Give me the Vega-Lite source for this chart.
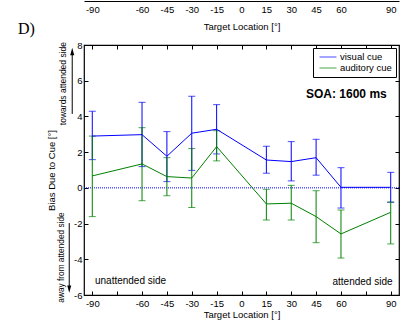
{
  "$schema": "https://vega.github.io/schema/vega-lite/v6.json",
  "width": 315,
  "height": 250,
  "autosize": {"type": "none"},
  "padding": {"left": 84, "top": 45, "right": 13, "bottom": 26},
  "background": "white",
  "config": {
    "font": "Liberation Sans",
    "view": {"stroke": "black", "strokeWidth": 1.2},
    "axis": {
      "domainColor": "black",
      "tickColor": "black",
      "labelColor": "black",
      "titleColor": "black",
      "labelFontSize": 9.5,
      "titleFontSize": 9.5,
      "titleFontWeight": "normal",
      "grid": false,
      "labelFont": "Liberation Sans",
      "titleFont": "Liberation Sans"
    }
  },
  "datasets": {
    "series": [
      {"loc": -90, "cue": "visual cue", "mean": 2.9, "lo": 1.58, "hi": 4.29},
      {"loc": -60, "cue": "visual cue", "mean": 2.98, "lo": 1.19, "hi": 4.79},
      {"loc": -45, "cue": "visual cue", "mean": 1.77, "lo": 0.35, "hi": 3.15},
      {"loc": -30, "cue": "visual cue", "mean": 3.06, "lo": 0.98, "hi": 5.13},
      {"loc": -15, "cue": "visual cue", "mean": 3.28, "lo": 1.9, "hi": 4.66},
      {"loc": 15, "cue": "visual cue", "mean": 1.56, "lo": 0.82, "hi": 2.33},
      {"loc": 30, "cue": "visual cue", "mean": 1.47, "lo": 0.39, "hi": 2.59},
      {"loc": 45, "cue": "visual cue", "mean": 1.69, "lo": 0.71, "hi": 2.72},
      {"loc": 60, "cue": "visual cue", "mean": 0.03, "lo": -1.13, "hi": 1.13},
      {"loc": 90, "cue": "visual cue", "mean": 0.03, "lo": -0.81, "hi": 0.87},
      {"loc": -90, "cue": "auditory cue", "mean": 0.67, "lo": -1.61, "hi": 2.9},
      {"loc": -60, "cue": "auditory cue", "mean": 1.34, "lo": -0.72, "hi": 3.37},
      {"loc": -45, "cue": "auditory cue", "mean": 0.63, "lo": -0.44, "hi": 1.69},
      {"loc": -30, "cue": "auditory cue", "mean": 0.55, "lo": -1.1, "hi": 2.2},
      {"loc": -15, "cue": "auditory cue", "mean": 2.31, "lo": 1.51, "hi": 3.2},
      {"loc": 15, "cue": "auditory cue", "mean": -0.9, "lo": -1.8, "hi": -0.08},
      {"loc": 30, "cue": "auditory cue", "mean": -0.86, "lo": -1.8, "hi": 0.14},
      {"loc": 45, "cue": "auditory cue", "mean": -1.61, "lo": -3.07, "hi": -0.16},
      {"loc": 60, "cue": "auditory cue", "mean": -2.58, "lo": -3.93, "hi": -1.24},
      {"loc": 90, "cue": "auditory cue", "mean": -1.37, "lo": -3.14, "hi": -0.79}
    ]
  },
  "data": {"name": "series"},
  "layer": [
    {
      "data": {"values": [{}]},
      "mark": {"type": "rule", "color": "#0000ff", "strokeWidth": 1, "strokeDash": [1, 1]},
      "encoding": {
        "y": {"datum": 0, "type": "quantitative", "scale": {"domain": [-6, 8], "nice": false}, "axis": null}
      }
    },
    {
      "mark": {"type": "errorbar", "ticks": {"size": 7, "thickness": 1}, "thickness": 1},
      "encoding": {
        "x": {"field": "loc", "type": "quantitative", "scale": {"domain": [-95, 95], "nice": false},
              "axis": {"orient": "top", "values": [-90, -75, -60, -45, -30, -15, 0, 15, 30, 45, 60, 75, 90], "labels": false, "tickSize": -4, "title": null, "domain": false}},
        "y": {"field": "lo", "type": "quantitative", "scale": {"domain": [-6, 8], "nice": false},
              "axis": {"orient": "right", "values": [-6, -4, -2, 0, 2, 4, 6, 8], "labels": false, "tickSize": -4, "title": null, "domain": false}},
        "y2": {"field": "hi"},
        "color": {"field": "cue", "type": "nominal", "scale": {"domain": ["visual cue", "auditory cue"], "range": ["#0000ff", "#008000"]}}
      }
    },
    {
      "mark": {"type": "line", "strokeWidth": 1},
      "encoding": {
        "x": {"field": "loc", "type": "quantitative", "scale": {"domain": [-95, 95], "nice": false},
              "axis": {"orient": "bottom", "values": [-90, -75, -60, -45, -30, -15, 0, 15, 30, 45, 60, 75, 90],
                       "labelExpr": "datum.value == 75 || datum.value == -75 ? '' : replace(datum.label, '\u2212', '-')",
                       "tickSize": -4, "labelPadding": 7, "title": "Target Location [°]", "titlePadding": 2, "domain": false}},
        "y": {"field": "mean", "type": "quantitative", "scale": {"domain": [-6, 8], "nice": false},
              "axis": {"orient": "left", "values": [-6, -4, -2, 0, 2, 4, 6, 8], "tickSize": -4, "labelPadding": 6,
                       "labelExpr": "replace(datum.label, '\u2212', '-')",
                       "title": "Bias Due to Cue [°]", "titlePadding": 17, "domain": false}},
        "color": {"field": "cue", "type": "nominal", "scale": {"domain": ["visual cue", "auditory cue"], "range": ["#0000ff", "#008000"]},
                  "legend": {"orient": "top-right", "offset": 3, "title": null, "symbolType": "M-2,0H2", "symbolSize": 72,
                             "symbolStrokeWidth": 1, "labelFontSize": 9.5, "labelFont": "Liberation Sans", "labelColor": "black",
                             "strokeColor": "black", "fillColor": "white", "padding": 4, "rowPadding": 1, "labelOffset": 7,
                             "symbolOffset": 6}}
      }
    },
    {
      "data": {"values": [{}]},
      "mark": {"type": "text", "text": "SOA: 1600 ms", "fontSize": 12, "fontWeight": "bold", "align": "right", "baseline": "middle", "color": "black"},
      "encoding": {
        "x": {"datum": 87.6, "type": "quantitative", "scale": {"domain": [-95, 95], "nice": false}, "axis": null},
        "y": {"datum": 5.26, "type": "quantitative", "scale": {"domain": [-6, 8], "nice": false}, "axis": null}
      }
    },
    {
      "data": {"values": [{}]},
      "mark": {"type": "text", "text": "unattended side", "fontSize": 10, "align": "left", "baseline": "middle", "color": "black"},
      "encoding": {
        "x": {"datum": -88.4, "type": "quantitative", "scale": {"domain": [-95, 95], "nice": false}, "axis": null},
        "y": {"datum": -5.22, "type": "quantitative", "scale": {"domain": [-6, 8], "nice": false}, "axis": null}
      }
    },
    {
      "data": {"values": [{}]},
      "mark": {"type": "text", "text": "attended side", "fontSize": 10, "align": "right", "baseline": "middle", "color": "black"},
      "encoding": {
        "x": {"datum": 91.1, "type": "quantitative", "scale": {"domain": [-95, 95], "nice": false}, "axis": null},
        "y": {"datum": -5.25, "type": "quantitative", "scale": {"domain": [-6, 8], "nice": false}, "axis": null}
      }
    },
    {
      "data": {"values": [{}]},
      "mark": {"type": "text", "text": "towards attended side", "fontSize": 8.5, "angle": 270, "align": "center", "baseline": "middle", "color": "black"},
      "encoding": {
        "x": {"datum": -107.7, "type": "quantitative", "scale": {"domain": [-95, 95], "nice": false}, "axis": null},
        "y": {"datum": 5.84, "type": "quantitative", "scale": {"domain": [-6, 8], "nice": false}, "axis": null}
      }
    },
    {
      "data": {"values": [{}]},
      "mark": {"type": "text", "text": "away from attended side", "fontSize": 8.3, "angle": 270, "align": "center", "baseline": "middle", "color": "black"},
      "encoding": {
        "x": {"datum": -108.3, "type": "quantitative", "scale": {"domain": [-95, 95], "nice": false}, "axis": null},
        "y": {"datum": -3.9, "type": "quantitative", "scale": {"domain": [-6, 8], "nice": false}, "axis": null}
      }
    },
    {
      "data": {"values": [{}]},
      "mark": {"type": "rule", "color": "black", "strokeWidth": 1},
      "encoding": {
        "x": {"datum": -102.1, "type": "quantitative", "scale": {"domain": [-95, 95], "nice": false}, "axis": null},
        "y": {"datum": 7.6, "type": "quantitative", "scale": {"domain": [-6, 8], "nice": false}, "axis": null},
        "y2": {"datum": 4.14}
      }
    },
    {
      "data": {"values": [{}]},
      "mark": {"type": "point", "shape": "M-0.6,1L0,-1.2L0.6,1Z", "filled": true, "color": "black", "size": 45, "opacity": 1},
      "encoding": {
        "x": {"datum": -102.1, "type": "quantitative", "scale": {"domain": [-95, 95], "nice": false}, "axis": null},
        "y": {"datum": 7.62, "type": "quantitative", "scale": {"domain": [-6, 8], "nice": false}, "axis": null}
      }
    },
    {
      "data": {"values": [{}]},
      "mark": {"type": "rule", "color": "black", "strokeWidth": 1},
      "encoding": {
        "x": {"datum": -103.9, "type": "quantitative", "scale": {"domain": [-95, 95], "nice": false}, "axis": null},
        "y": {"datum": -1.97, "type": "quantitative", "scale": {"domain": [-6, 8], "nice": false}, "axis": null},
        "y2": {"datum": -5.6}
      }
    },
    {
      "data": {"values": [{}]},
      "mark": {"type": "point", "shape": "M-0.6,-1L0,1.2L0.6,-1Z", "filled": true, "color": "black", "size": 45, "opacity": 1},
      "encoding": {
        "x": {"datum": -103.9, "type": "quantitative", "scale": {"domain": [-95, 95], "nice": false}, "axis": null},
        "y": {"datum": -5.65, "type": "quantitative", "scale": {"domain": [-6, 8], "nice": false}, "axis": null}
      }
    },
    {
      "data": {"values": [{}]},
      "mark": {"type": "text", "text": "D)", "font": "Liberation Serif", "fontSize": 16, "align": "left", "baseline": "middle", "color": "black"},
      "encoding": {
        "x": {"datum": -134.8, "type": "quantitative", "scale": {"domain": [-95, 95], "nice": false},
              "axis": {"orient": "top", "offset": 44, "values": [-90, -60, -45, -30, -15, 0, 15, 30, 45, 60, 90],
                       "labelExpr": "replace(datum.label, '\u2212', '-')",
                       "ticks": true, "tickSize": 0, "labelPadding": -3, "labelBaseline": "top",
                       "title": "Target Location [°]", "titleY": 25, "titleBaseline": "middle", "domain": true, "domainWidth": 1.2}},
        "y": {"datum": 8.9, "type": "quantitative", "scale": {"domain": [-6, 8], "nice": false}, "axis": null}
      }
    }
  ],
  "resolve": {"axis": {"x": "independent", "y": "independent"}}
}
